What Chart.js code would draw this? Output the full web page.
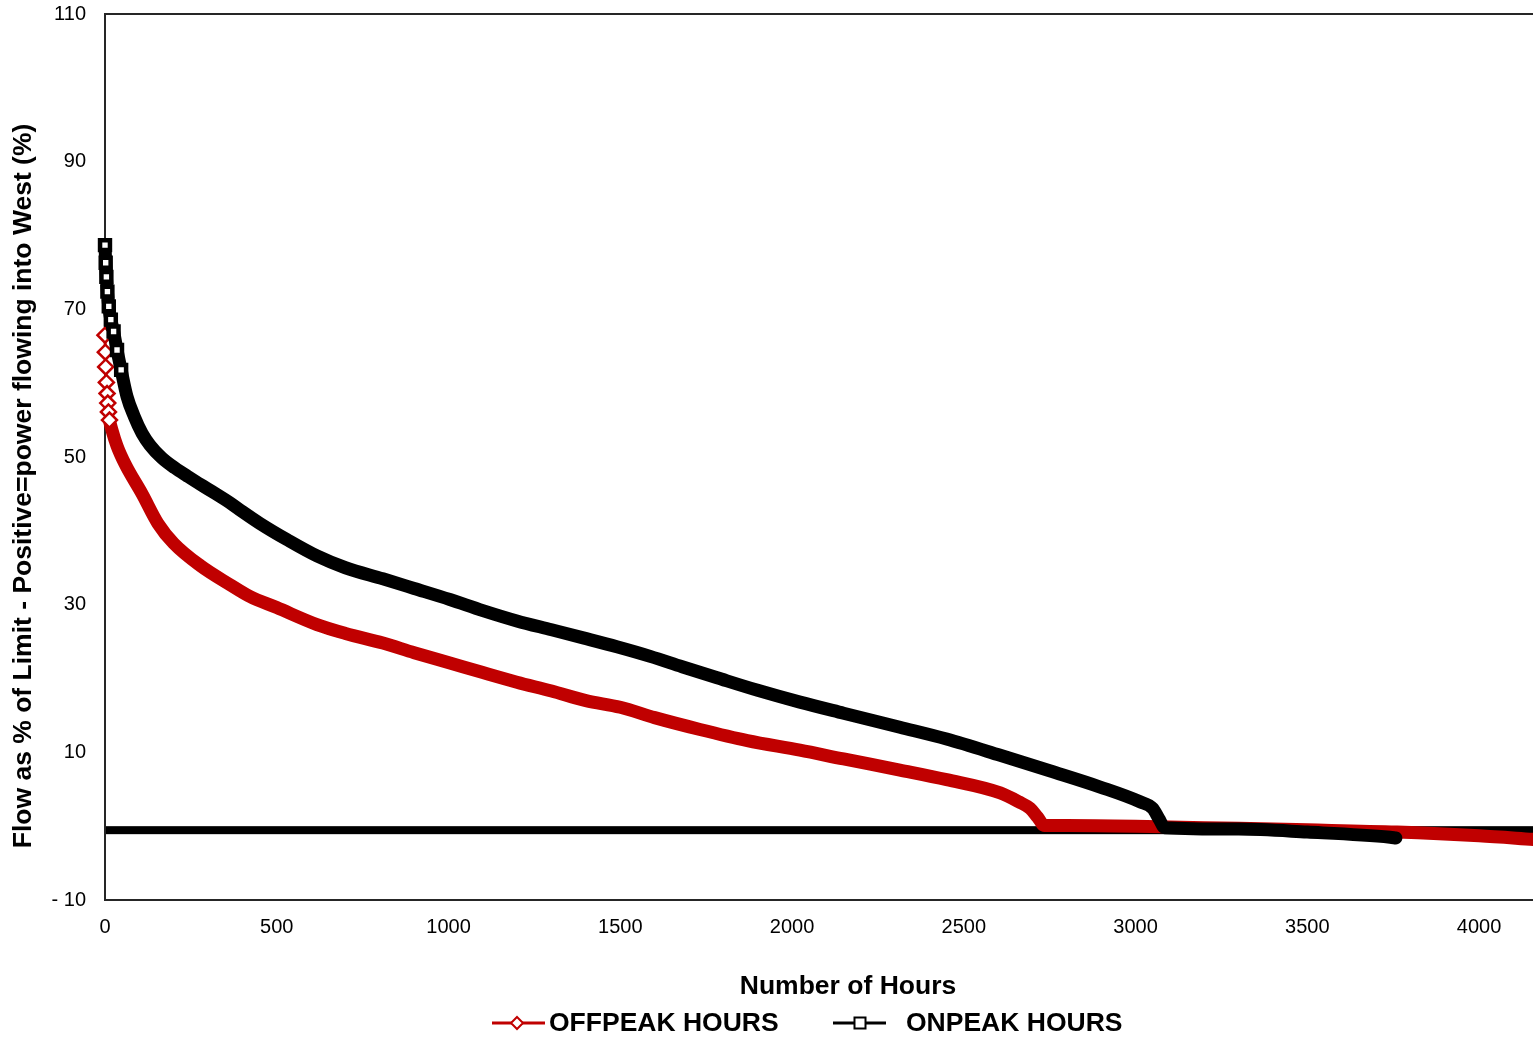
<!DOCTYPE html>
<html>
<head>
<meta charset="utf-8">
<script src="https://cdn.jsdelivr.net/npm/chart.js@4.4.1/dist/chart.umd.min.js"></script>
<style>
  html, body { margin: 0; padding: 0; background: #fff; }
  canvas { display: block; }
</style>
</head>
<body>
<canvas id="flowChart" width="1533" height="1042"></canvas>
<script>
// duration curves, hours sorted by flow
const offpeakHours = [0, 1, 2, 4, 6, 8, 10, 13, 20, 35, 59, 108, 154, 200, 277, 364, 422, 500, 617, 700, 809, 900, 1004, 1100, 1199, 1300, 1400, 1500, 1600, 1732, 1870, 2023, 2150, 2314, 2450, 2606, 2660, 2693, 2715, 2735, 2800, 3000, 3200, 3500, 3761, 4000, 4160];
const offpeakFlow  = [66.5, 64.2, 62.2, 60.1, 58.6, 57.3, 56.1, 55.0, 53.7, 51.5, 49.0, 45.0, 41.0, 38.3, 35.3, 32.7, 31.1, 29.6, 27.3, 26.1, 24.8, 23.5, 22.1, 20.8, 19.5, 18.3, 17.0, 16.1, 14.7, 13.1, 11.6, 10.3, 9.1, 7.6, 6.3, 4.5, 3.3, 2.4, 1.2, 0.1, 0.1, 0.0, -0.2, -0.5, -0.8, -1.3, -1.8];

const onpeakHours = [0, 2, 4, 7, 11, 17, 25, 35, 47, 64, 85, 108, 131, 165, 204, 240, 277, 320, 364, 400, 451, 530, 617, 700, 809, 900, 1004, 1100, 1199, 1300, 1392, 1490, 1587, 1680, 1782, 1900, 2023, 2150, 2314, 2450, 2606, 2750, 2897, 3013, 3050, 3068, 3085, 3300, 3500, 3741, 3758];
const onpeakFlow  = [78.7, 76.3, 74.4, 72.4, 70.4, 68.6, 67.0, 64.5, 61.8, 58.2, 55.5, 53.2, 51.6, 49.9, 48.5, 47.4, 46.3, 45.1, 43.8, 42.6, 41.0, 38.8, 36.6, 35.0, 33.5, 32.2, 30.7, 29.2, 27.8, 26.6, 25.5, 24.3, 23.0, 21.6, 20.1, 18.4, 16.8, 15.3, 13.4, 11.8, 9.6, 7.5, 5.3, 3.3, 2.4, 1.0, -0.2, -0.4, -0.8, -1.5, -1.6];

const hourTicks = [0, 500, 1000, 1500, 2000, 2500, 3000, 3500, 4000];
const seriesNames = ['OFFPEAK HOURS', 'ONPEAK HOURS'];
const xTitle = 'Number of Hours';
const yTitle = 'Flow as % of Limit - Positive=power flowing into West (%)';

const RED = '#c00000';
const FONT = '"Liberation Sans", Arial, sans-serif';

// the first few hours drop fast enough that the markers separate
const offpeakMarked = 8;
const onpeakMarked = 9;

const toPoints = (xs, ys) => xs.map((x, i) => ({ x: x, y: ys[i] }));

// keep the plot box fixed: no extra room for overhanging tick labels
const noOverhang = size => s => {
  if (s.isHorizontal()) s.height = size; else s.width = size;
  s.paddingTop = 0; s.paddingBottom = 0; s.paddingLeft = 0; s.paddingRight = 0;
};

const decorations = {
  id: 'decorations',
  beforeDatasetsDraw(chart) {
    const { ctx, chartArea: a, scales: { y } } = chart;
    const y0 = y.getPixelForValue(0);
    ctx.save();
    // heavy zero line
    ctx.fillStyle = '#000';
    ctx.fillRect(a.left, y0, a.right - a.left, 8);
    // plot frame
    ctx.strokeStyle = '#262626';
    ctx.lineWidth = 2;
    ctx.beginPath();
    ctx.moveTo(a.right + 2, a.top);
    ctx.lineTo(a.left, a.top);
    ctx.lineTo(a.left, a.bottom);
    ctx.lineTo(a.right + 2, a.bottom);
    ctx.stroke();
    ctx.restore();
  },
  afterDraw(chart) {
    const ctx = chart.ctx;
    ctx.save();
    ctx.fillStyle = '#000';
    ctx.textBaseline = 'middle';

    // axis titles
    ctx.font = 'bold 26.5px ' + FONT;
    ctx.textAlign = 'center';
    ctx.fillText(xTitle, 848, 987);
    ctx.save();
    ctx.translate(24, 486);
    ctx.rotate(-Math.PI / 2);
    ctx.fillText(yTitle, 0, 0);
    ctx.restore();

    // legend
    const ly = 1023;
    ctx.font = 'bold 26.5px ' + FONT;
    ctx.textAlign = 'left';

    ctx.strokeStyle = RED;
    ctx.lineWidth = 3;
    ctx.beginPath();
    ctx.moveTo(492, ly); ctx.lineTo(545, ly);
    ctx.stroke();
    ctx.fillStyle = '#fff';
    ctx.lineWidth = 2;
    ctx.beginPath();
    ctx.moveTo(517, ly - 6); ctx.lineTo(523, ly); ctx.lineTo(517, ly + 6); ctx.lineTo(511, ly);
    ctx.closePath();
    ctx.fill(); ctx.stroke();
    ctx.fillStyle = '#000';
    ctx.fillText(seriesNames[0], 549, ly + 1);

    ctx.strokeStyle = '#000';
    ctx.lineWidth = 3;
    ctx.beginPath();
    ctx.moveTo(833, ly); ctx.lineTo(886, ly);
    ctx.stroke();
    ctx.fillStyle = '#fff';
    ctx.lineWidth = 2;
    ctx.fillRect(854.5, ly - 5.5, 11, 11);
    ctx.strokeRect(854.5, ly - 5.5, 11, 11);
    ctx.fillStyle = '#000';
    ctx.fillText(seriesNames[1], 906, ly + 1);
    ctx.restore();
  }
};

new Chart(document.getElementById('flowChart'), {
  type: 'line',
  data: {
    datasets: [
      {
        label: seriesNames[0],
        data: toPoints(offpeakHours, offpeakFlow),
        order: 2,
        borderColor: RED,
        borderWidth: 13,
        borderJoinStyle: 'round',
        borderCapStyle: 'round',
        segment: { borderWidth: c => (c.p1DataIndex < offpeakMarked ? 3 : 13) },
        pointStyle: 'rectRot',
        pointRadius: c => (c.dataIndex < offpeakMarked ? 7.5 : 0),
        pointBorderWidth: 2.5,
        pointBorderColor: RED,
        pointBackgroundColor: '#fff',
        cubicInterpolationMode: 'monotone',
        clip: false
      },
      {
        label: seriesNames[1],
        data: toPoints(onpeakHours, onpeakFlow),
        order: 1,
        borderColor: '#000',
        borderWidth: 13,
        borderJoinStyle: 'round',
        borderCapStyle: 'round',
        pointStyle: 'rect',
        pointRadius: c => (c.dataIndex < onpeakMarked ? 7 : 0),
        pointBorderWidth: 4.5,
        pointBorderColor: '#000',
        pointBackgroundColor: '#fff',
        cubicInterpolationMode: 'monotone',
        clip: false
      }
    ]
  },
  options: {
    responsive: false,
    animation: false,
    devicePixelRatio: 1,
    layout: { autoPadding: false, padding: { top: 14, right: 0, bottom: 0, left: 0 } },
    plugins: { legend: { display: false }, tooltip: { enabled: false } },
    scales: {
      x: {
        type: 'linear',
        min: 0,
        max: 4157,
        grid: { display: false, drawTicks: false },
        border: { display: false },
        afterBuildTicks: s => { s.ticks = hourTicks.map(v => ({ value: v })); },
        ticks: {
          autoSkip: false,
          maxRotation: 0,
          padding: 15,
          color: '#000',
          font: { family: FONT, size: 20 },
          callback: v => String(v)
        },
        afterFit: noOverhang(142)
      },
      y: {
        min: -10,
        max: 110,
        grid: { display: false, drawTicks: false },
        border: { display: false },
        ticks: {
          stepSize: 20,
          padding: 19,
          color: '#000',
          font: { family: FONT, size: 20 },
          callback: v => (v < 0 ? '- ' + (-v) : String(v))
        },
        afterFit: noOverhang(105)
      }
    }
  },
  plugins: [decorations]
});
</script>
</body>
</html>
